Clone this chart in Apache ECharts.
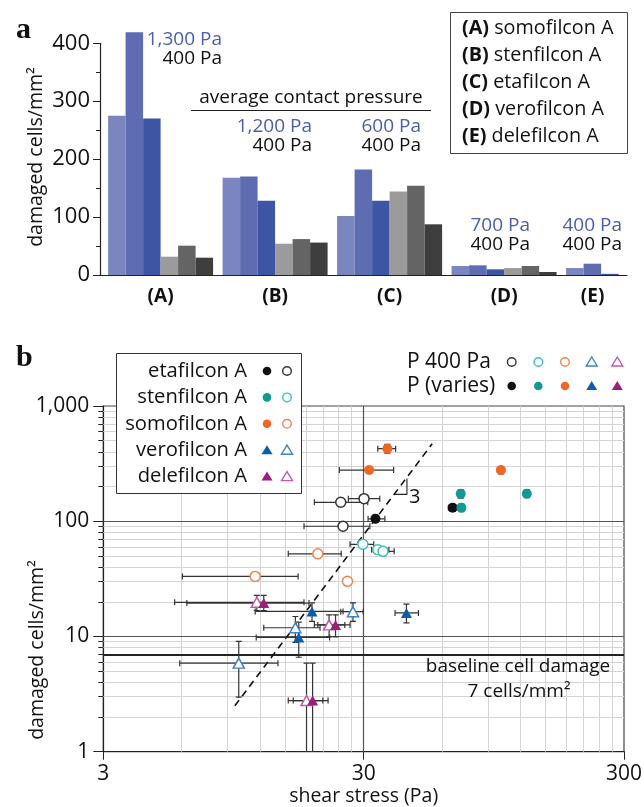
<!DOCTYPE html>
<html>
<head>
<meta charset="utf-8">
<script src="https://cdn.jsdelivr.net/npm/echarts@6/dist/echarts.min.js"></script>
<style>html,body{margin:0;padding:0;background:#fff}#main{width:644px;height:807px}</style>
</head>
<body>
<div id="main"></div>
<script>
// ---- panel a: damaged cells per lens, three runs at varied pressure, three at 400 Pa
var lenses = ['(A)', '(B)', '(C)', '(D)', '(E)'];
var variedRun1 = [275, 168, 102, 15.5, 12];
var variedRun2 = [419, 170, 182, 16.7, 19.5];
var variedRun3 = [270, 128, 128, 9.8, 2];
var fixedRun1 = [31.6, 54, 144, 12, null];
var fixedRun2 = [50.6, 62, 154, 15.5, null];
var fixedRun3 = [29.9, 56, 87.5, 5.2, null];
var variedPressure = ['1,300 Pa', '1,200 Pa', '600 Pa', '700 Pa', '400 Pa'];
var fixedPressure = ['400 Pa', '400 Pa', '400 Pa', '400 Pa', '400 Pa'];
var lensNames = ['somofilcon A', 'stenfilcon A', 'etafilcon A', 'verofilcon A', 'delefilcon A'];

// ---- panel b: [shear stress, damaged cells, shear lo, shear hi, damage lo, damage hi]
var etaVaried = [[33.3, 105, 31.2, 36.2, 97, 113], [65.9, 131, 63.5, 68.5, 122, 140]];
var etaFixed = [[30.1, 157, 26.2, 34.6, 150, 164], [24.5, 146, 19.4, 31.1, 140, 152], [25.0, 90.5, 17.7, 31.7, 86, 95]];
var stenVaried = [[70.8, 173, 69, 72.5, 159, 188], [71.2, 131, 69.5, 73, 121, 141], [127, 173, 124, 130, 160, 187]];
var stenFixed = [[29.8, 63.1, 26.6, 32.8, 60, 66], [34.0, 56.7, 32.2, 37.5, 54, 59.5], [35.6, 54.8, 33.0, 39.3, 52, 57.5]];
var somoVaried = [[37.0, 426, 34.0, 39.8, 390, 465], [31.5, 278, 24.2, 39.1, 264, 292], [101, 278, 98, 104, 258, 298]];
var somoFixed = [[20.0, 52.1, 15.4, 24.6, 48.5, 56], [11.5, 33.2, 6.04, 16.8, 30.5, 36], [26.0, 30.1, 25.3, 26.7, 28, 32.5]];
var veroVaried = [[19.0, 16.5, 11.5, 25.0, 13.5, 19.6], [43.8, 16.0, 39.6, 48.7, 13.1, 19.1], [16.9, 9.8, 11.6, 22.2, 6.6, 13.3]];
var veroFixed = [[27.3, 16.4, 24.5, 29.9, 13.5, 19.6], [16.4, 11.9, 12.4, 20.4, 8.9, 14.9], [9.94, 5.87, 5.9, 14.06, 2.97, 9.05]];
var deleVaried = [[12.4, 19.5, 6.28, 18.5, 16.8, 22.7], [23.4, 12.6, 20.0, 26.6, 9.9, 15.4], [19.1, 2.78, 16.1, 21.9, 1, 5.87]];
var deleFixed = [[11.66, 19.8, 5.64, 17.7, 16.8, 22.7], [22.1, 12.6, 19.4, 25.4, 9.9, 15.4], [18.1, 2.78, 15.4, 20.9, 1, 5.87]];
var slopeLine = [[9.6, 2.5], [55, 470]];
var slopeTriangle = [[39.6, 171], [44, 171], [44, 235]];
var baselineDamage = 7;

var xMajor = [3, 30, 300];
var xMinor = [6, 9, 12, 15, 18, 21, 24, 27, 60, 90, 120, 150, 180, 210, 240, 270];
var yMajor = [1, 10, 100, 1000];
var yMinor = [2, 3, 4, 5, 6, 7, 8, 9, 20, 30, 40, 50, 60, 70, 80, 90, 200, 300, 400, 500, 600, 700, 800, 900];

var FONT = '"Open Sans", "Noto Sans", sans-serif';
var BLUE_TXT = '#4a5cad';

var myChart = echarts.init(document.getElementById('main'));

function barSeries(name, data, color) {
    return {
        name: name, type: 'bar', xAxisIndex: 1, yAxisIndex: 1, data: data,
        barGap: '0%', barCategoryGap: '8.3%', clip: false, silent: true,
        itemStyle: { color: color }
    };
}

function pointSeries(data, symbol, color, filled) {
    return {
        type: 'scatter', xAxisIndex: 2, yAxisIndex: 2, data: data, z: 6, silent: true,
        symbol: symbol, symbolSize: symbol === 'circle' ? 10 : [11, 10],
        itemStyle: filled ? { color: color, opacity: 1 } : { color: '#fff', borderColor: color, borderWidth: 1.5, opacity: 1 }
    };
}

function errorBars(params, api) {
    var c = api.coord([api.value(0), api.value(1)]);
    var xl = api.coord([api.value(2), api.value(1)])[0];
    var xh = api.coord([api.value(3), api.value(1)])[0];
    var yl = api.coord([api.value(0), api.value(4)])[1];
    var yh = api.coord([api.value(0), api.value(5)])[1];
    var s = { stroke: '#333', lineWidth: 1.2 };
    var cap = 3;
    function ln(x1, y1, x2, y2) { return { type: 'line', shape: { x1: x1, y1: y1, x2: x2, y2: y2 }, style: s }; }
    return {
        type: 'group', children: [
            ln(xl, c[1], xh, c[1]), ln(xl, c[1] - cap, xl, c[1] + cap), ln(xh, c[1] - cap, xh, c[1] + cap),
            ln(c[0], yl, c[0], yh), ln(c[0] - cap, yl, c[0] + cap, yl), ln(c[0] - cap, yh, c[0] + cap, yh)
        ]
    };
}

var materials = [
    { name: 'etafilcon A', symbol: 'circle', filledColor: '#111', openColor: '#333', varied: etaVaried, fixed: etaFixed },
    { name: 'stenfilcon A', symbol: 'circle', filledColor: '#119a94', openColor: '#3cc0c2', varied: stenVaried, fixed: stenFixed },
    { name: 'somofilcon A', symbol: 'circle', filledColor: '#f26522', openColor: '#f3844d', varied: somoVaried, fixed: somoFixed },
    { name: 'verofilcon A', symbol: 'triangle', filledColor: '#0d5dab', openColor: '#3b82c8', varied: veroVaried, fixed: veroFixed },
    { name: 'delefilcon A', symbol: 'triangle', filledColor: '#9c1f7c', openColor: '#c25aa7', varied: deleVaried, fixed: deleFixed }
];

var allPoints = [];
var pointSeriesList = [];
materials.forEach(function (m) {
    allPoints = allPoints.concat(m.fixed, m.varied);
    pointSeriesList.push(pointSeries(m.fixed, m.symbol, m.openColor, false));
    pointSeriesList.push(pointSeries(m.varied, m.symbol, m.filledColor, true));
});

var gridLineData = [];
xMinor.forEach(function (v) { gridLineData.push({ xAxis: v }); });
yMinor.forEach(function (v) { if (v !== baselineDamage) gridLineData.push({ yAxis: v }); });
gridLineData.push({ yAxis: 10, lineStyle: { color: '#555', width: 1.2 } });
gridLineData.push({ yAxis: 100, lineStyle: { color: '#555', width: 1.2 } });
gridLineData.push({ xAxis: 30, lineStyle: { color: '#555', width: 1.2 } });
gridLineData.push({ yAxis: baselineDamage, lineStyle: { color: '#222', width: 2 } });

// ---- graphic texts / legends
function txt(text, x, y, opt) {
    opt = opt || {};
    return {
        type: 'text', x: x, y: y, rotation: opt.rotation || 0, silent: true, z: 100,
        style: {
            text: text, fill: opt.color || '#111', fontSize: opt.size || 19, fontFamily: opt.family || FONT,
            fontWeight: opt.weight || 'normal', align: opt.align || 'left', verticalAlign: 'middle',
            rich: opt.rich
        }
    };
}
function circleMark(x, y, color, filled) {
    return { type: 'circle', shape: { cx: x, cy: y, r: 4.3 }, z: 101, silent: true,
        style: filled ? { fill: color } : { fill: '#fff', stroke: color, lineWidth: 1.4 } };
}
function triMark(x, y, color, filled) {
    return { type: 'polygon', shape: { points: [[x, y - 5], [x + 5.5, y + 4], [x - 5.5, y + 4]] }, z: 101, silent: true,
        style: filled ? { fill: color } : { fill: '#fff', stroke: color, lineWidth: 1.4 } };
}

var graphics = [];
graphics.push(txt('a', 16, 30, { family: '"Liberation Serif", serif', weight: 'bold', size: 30 }));
graphics.push(txt('b', 16, 358, { family: '"Liberation Serif", serif', weight: 'bold', size: 30 }));
graphics.push(txt('damaged cells/mm\u00b2', 36, 157, { rotation: Math.PI / 2, align: 'center', size: 19.5 }));
graphics.push(txt('damaged cells/mm\u00b2', 37, 650, { rotation: Math.PI / 2, align: 'center', size: 19.5 }));

// pressure labels above groups
var pressurePos = [[222, 40], [312, 127], [421, 127], [530, 226], [622, 226]];
lenses.forEach(function (l, i) {
    graphics.push(txt(variedPressure[i], pressurePos[i][0], pressurePos[i][1], { align: 'right', color: BLUE_TXT }));
    graphics.push(txt(fixedPressure[i], pressurePos[i][0], pressurePos[i][1] + 18.5, { align: 'right' }));
});
graphics.push(txt('average contact pressure', 311, 98, { align: 'center' }));
graphics.push({ type: 'line', shape: { x1: 191, y1: 110.5, x2: 431, y2: 110.5 }, style: { stroke: '#222', lineWidth: 1.2 }, silent: true });

// legend a
graphics.push({ type: 'rect', shape: { x: 450.5, y: 12.5, width: 177, height: 141 }, style: { fill: '#fff', stroke: '#444', lineWidth: 1 }, silent: true, z: 99 });
lenses.forEach(function (l, i) {
    graphics.push(txt('{b|' + l + '} ' + lensNames[i], 462, 28 + i * 27.2,
        { size: 19.8, rich: { b: { fontWeight: 'bold', fontSize: 19.8, fontFamily: FONT } } }));
});

// legend b (materials)
graphics.push({ type: 'rect', shape: { x: 116.5, y: 353.5, width: 185, height: 140 }, style: { fill: '#fff', stroke: '#333', lineWidth: 1 }, silent: true, z: 99 });
materials.forEach(function (m, i) {
    var y = 371 + i * 26.4;
    graphics.push(txt(m.name, 247, y, { align: 'right', size: 20.2 }));
    var mk = m.symbol === 'circle' ? circleMark : triMark;
    graphics.push(mk(267, y, m.filledColor, true));
    graphics.push(mk(287, y, m.openColor, false));
});

// legend b (pressure)
graphics.push(txt('P 400 Pa', 407, 362, { size: 21 }));
graphics.push(txt('P (varies)', 407, 386, { size: 21 }));
var pX = [511.7, 538.3, 565, 591.7, 617.3];
materials.forEach(function (m, i) {
    var mk = m.symbol === 'circle' ? circleMark : triMark;
    graphics.push(mk(pX[i], 362, m.openColor, false));
    graphics.push(mk(pX[i], 386, m.filledColor, true));
});

// slope label & baseline note
graphics.push(txt('3', 409, 497, { size: 20 }));
graphics.push(txt('baseline cell damage', 518, 667, { align: 'center' }));
graphics.push(txt(baselineDamage + ' cells/mm\u00b2', 519, 692, { align: 'center' }));

var axisColor = '#222';
var option = {
    animation: false,
    textStyle: { fontFamily: FONT },
    grid: [
        { left: 100, top: 43.3, width: 527, height: 231.7, outerBoundsMode: 'none' },
        { left: 103.35, top: 43.3, width: 572.5, height: 231.7, outerBoundsMode: 'none' },
        { left: 103.3, top: 406, width: 520.7, height: 345.7, outerBoundsMode: 'none', show: true, borderColor: '#444', borderWidth: 1.2, backgroundColor: 'transparent' }
    ],
    xAxis: [
        { gridIndex: 0, type: 'value', min: 0, max: 1, axisLine: { show: true, lineStyle: { color: axisColor, width: 1.2 } },
          axisTick: { show: false }, axisLabel: { show: false }, splitLine: { show: false } },
        { gridIndex: 1, type: 'category', data: lenses, axisLine: { show: false }, axisTick: { show: false },
          axisLabel: { fontSize: 19, fontWeight: 'bold', color: '#111', margin: 12,
              // (E) has only three bars, so its label sits over them
              formatter: function (v) { return v === '(E)' ? '{e|' + v + '}' : v; },
              rich: { e: { fontSize: 19, fontWeight: 'bold', color: '#111', padding: [0, 52, 0, 0] } } },
          splitLine: { show: false } },
        { gridIndex: 2, type: 'log', logBase: 10, min: 3, max: 300,
          axisLine: { show: true, lineStyle: { color: axisColor, width: 1.2 } },
          axisTick: { show: true, customValues: xMajor, length: 8, lineStyle: { color: axisColor } },
          axisLabel: { customValues: xMajor, fontSize: 21, color: '#111', margin: 12 },
          splitLine: { show: false }, minorTick: { show: false },
          name: 'shear stress (Pa)', nameLocation: 'middle', nameGap: 35, nameTextStyle: { fontSize: 19.5, color: '#111' } },
        { gridIndex: 2, type: 'log', logBase: 10, min: 3, max: 300, position: 'bottom',
          axisLine: { show: false }, axisTick: { show: true, inside: true, customValues: xMinor, length: 6, lineStyle: { color: axisColor } },
          axisLabel: { show: false }, splitLine: { show: false } }
    ],
    yAxis: [
        { gridIndex: 0, type: 'value', min: 0, max: 400, interval: 100,
          axisLine: { show: true, lineStyle: { color: axisColor, width: 1.2 } },
          axisTick: { show: true, length: 7, lineStyle: { color: axisColor } },
          minorTick: { show: true, splitNumber: 2, length: 4, lineStyle: { color: axisColor } },
          axisLabel: { fontSize: 22, color: '#111', margin: 10 }, splitLine: { show: false } },
        { gridIndex: 1, type: 'value', min: 0, max: 400, show: false },
        { gridIndex: 2, type: 'log', logBase: 10, min: 1, max: 1000,
          axisLine: { show: true, lineStyle: { color: axisColor, width: 1.2 } },
          axisTick: { show: true, customValues: yMajor, length: 10, lineStyle: { color: axisColor } },
          axisLabel: { customValues: yMajor, fontSize: 21, color: '#111', margin: 14,
              formatter: function (v) { return Number(v).toLocaleString('en-US'); } },
          splitLine: { show: false } },
        { gridIndex: 2, type: 'log', logBase: 10, min: 1, max: 1000, position: 'left',
          axisLine: { show: false }, axisTick: { show: true, customValues: yMinor, length: 5, lineStyle: { color: axisColor } },
          axisLabel: { show: false }, splitLine: { show: false } }
    ],
    series: [
        barSeries('varied 1', variedRun1, '#7b85c0'),
        barSeries('varied 2', variedRun2, '#5e6cb1'),
        barSeries('varied 3', variedRun3, '#3d55a3'),
        barSeries('400 Pa 1', fixedRun1, '#9b9b9b'),
        barSeries('400 Pa 2', fixedRun2, '#646464'),
        barSeries('400 Pa 3', fixedRun3, '#3e3e3e'),
        {
            type: 'line', xAxisIndex: 2, yAxisIndex: 2, data: [[3, 1]], showSymbol: false, silent: true, z: 1,
            lineStyle: { opacity: 0 },
            markLine: { silent: true, z: 1, symbol: ['none', 'none'], label: { show: false },
                lineStyle: { color: '#d4d4d4', width: 1, type: 'solid' }, data: gridLineData }
        },
        {
            type: 'line', xAxisIndex: 2, yAxisIndex: 2, data: slopeLine, showSymbol: false, silent: true, z: 3,
            lineStyle: { color: '#111', width: 1.6, type: [7, 5] }
        },
        {
            type: 'line', xAxisIndex: 2, yAxisIndex: 2, data: slopeTriangle, showSymbol: false, silent: true, z: 3,
            lineStyle: { color: '#222', width: 1.1 }
        },
        {
            type: 'custom', xAxisIndex: 2, yAxisIndex: 2, data: allPoints, encode: { x: 0, y: 1 },
            renderItem: errorBars, z: 4, silent: true, clip: true
        }
    ].concat(pointSeriesList),
    graphic: graphics
};

myChart.setOption(option);
</script>
</body>
</html>
